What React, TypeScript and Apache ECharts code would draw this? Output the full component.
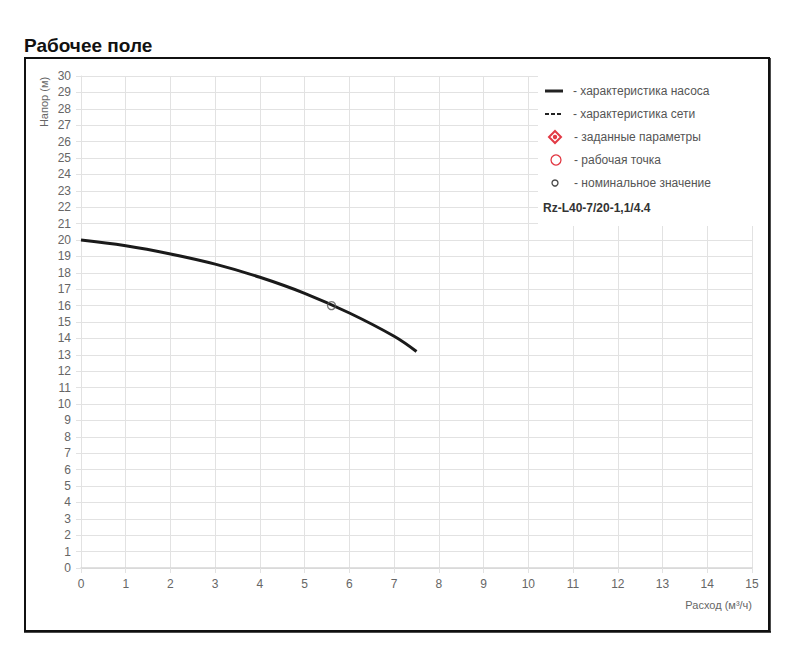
import React, { useEffect, useRef } from "react";
import * as echarts from "echarts";

const xTicks = [0, 15];
const yTicks = [0, 30];
const pumpFlow = [0, 1, 2, 3, 4, 5, 6, 7, 7.5];
const pumpHead = [20, 19.65, 19.15, 18.53, 17.73, 16.75, 15.55, 14.13, 13.2];
const nominalPoint = [5.6, 16];
const legendLabels = [
  "- характеристика насоса",
  "- характеристика сети",
  "- заданные параметры",
  "- рабочая точка",
  "- номинальное значение",
];
const modelName = "Rz-L40-7/20-1,1/4.4";

export default function App() {
  const ref = useRef<HTMLDivElement>(null);
  useEffect(() => {
    const chart = echarts.init(ref.current!, null, { renderer: "svg" });
    const font = "'Liberation Sans', Arial, sans-serif";
    const legendY = [91, 114, 137, 160, 183];
    const legendTexts = legendLabels.map((t, i) => ({
      type: "text",
      x: i >= 2 ? 574 : 573,
      y: legendY[i],
      style: { text: t, fill: "#555", font: `12px ${font}`, verticalAlign: "middle" },
      z: 101,
    }));
    chart.setOption({
      animation: false,
      title: {
        text: "Рабочее поле",
        left: 24,
        top: 36,
        padding: 0,
        textStyle: { fontSize: 19, fontWeight: "bold", color: "#111", fontFamily: font },
      },
      grid: { left: 81, right: 48, top: 76, bottom: 97, containLabel: false },
      xAxis: {
        type: "value",
        min: xTicks[0],
        max: xTicks[1],
        interval: 1,
        axisLine: { show: true, lineStyle: { color: "#d6d6d6", width: 1.5 } },
        axisTick: { show: true, length: 5, lineStyle: { color: "#e2e2e2" } },
        axisLabel: { color: "#666", fontSize: 12, margin: 10, fontFamily: font },
        splitLine: { show: true, lineStyle: { color: "#e2e2e2" } },
      },
      yAxis: {
        type: "value",
        min: yTicks[0],
        max: yTicks[1],
        interval: 1,
        axisLine: { show: true, lineStyle: { color: "#e2e2e2" } },
        axisTick: { show: true, length: 5, lineStyle: { color: "#e2e2e2" } },
        axisLabel: { color: "#666", fontSize: 12, margin: 10, fontFamily: font },
        splitLine: { show: true, lineStyle: { color: "#e2e2e2" } },
      },
      series: [
        {
          type: "line",
          data: pumpFlow.map((q, i) => [q, pumpHead[i]]),
          smooth: 0.4,
          showSymbol: false,
          lineStyle: { color: "#1a1a1a", width: 3 },
          z: 3,
        },
        {
          type: "scatter",
          data: [nominalPoint],
          symbol: "circle",
          symbolSize: 8,
          itemStyle: { color: "rgba(255,255,255,0)", borderColor: "#555", borderWidth: 1.3 },
          z: 4,
        },
      ],
      graphic: [
        {
          type: "rect",
          shape: { x: 25, y: 58, width: 744, height: 573 },
          style: { fill: "none", stroke: "#111", lineWidth: 2 },
          z: 100,
        },
        {
          type: "line",
          shape: { x1: 24, y1: 632, x2: 771, y2: 632 },
          style: { stroke: "#111", lineWidth: 1.5 },
          z: 100,
        },
        {
          type: "line",
          shape: { x1: 770, y1: 58, x2: 770, y2: 632 },
          style: { stroke: "#111", lineWidth: 1.5 },
          z: 100,
        },
        {
          type: "rect",
          shape: { x: 538, y: 70, width: 229, height: 156 },
          style: { fill: "#fff" },
          z: 100,
        },
        {
          type: "line",
          shape: { x1: 545, y1: 91, x2: 563, y2: 91 },
          style: { stroke: "#222", lineWidth: 3 },
          z: 101,
        },
        {
          type: "line",
          shape: { x1: 545, y1: 114, x2: 563, y2: 114 },
          style: { stroke: "#222", lineWidth: 1.8, lineDash: [4, 2] },
          z: 101,
        },
        {
          type: "polygon",
          shape: { points: [[555, 131], [561, 137], [555, 143], [549, 137]] },
          style: { fill: "none", stroke: "#e23a45", lineWidth: 2 },
          z: 101,
        },
        {
          type: "circle",
          shape: { cx: 555, cy: 137, r: 2.2 },
          style: { fill: "#e23a45" },
          z: 101,
        },
        {
          type: "circle",
          shape: { cx: 556, cy: 160, r: 5 },
          style: { fill: "none", stroke: "#e23a45", lineWidth: 1.3 },
          z: 101,
        },
        {
          type: "circle",
          shape: { cx: 555, cy: 183, r: 3 },
          style: { fill: "none", stroke: "#444", lineWidth: 1.3 },
          z: 101,
        },
        ...legendTexts,
        {
          type: "text",
          x: 543,
          y: 208,
          style: { text: modelName, fill: "#333", font: `bold 12px ${font}`, verticalAlign: "middle" },
          z: 101,
        },
        {
          type: "text",
          x: 44,
          y: 102,
          rotation: Math.PI / 2,
          style: { text: "Напор (м)", fill: "#666", font: `11px ${font}`, align: "center", verticalAlign: "middle" },
          z: 101,
        },
        {
          type: "text",
          x: 752,
          y: 605,
          style: { text: "Расход (м³/ч)", fill: "#666", font: `11px ${font}`, align: "right", verticalAlign: "middle" },
          z: 101,
        },
      ],
    });
    return () => chart.dispose();
  }, []);
  return (
    <div
      ref={ref}
      style={{ position: "fixed", left: 0, top: 0, width: 800, height: 665, background: "#fff" }}
    />
  );
}
